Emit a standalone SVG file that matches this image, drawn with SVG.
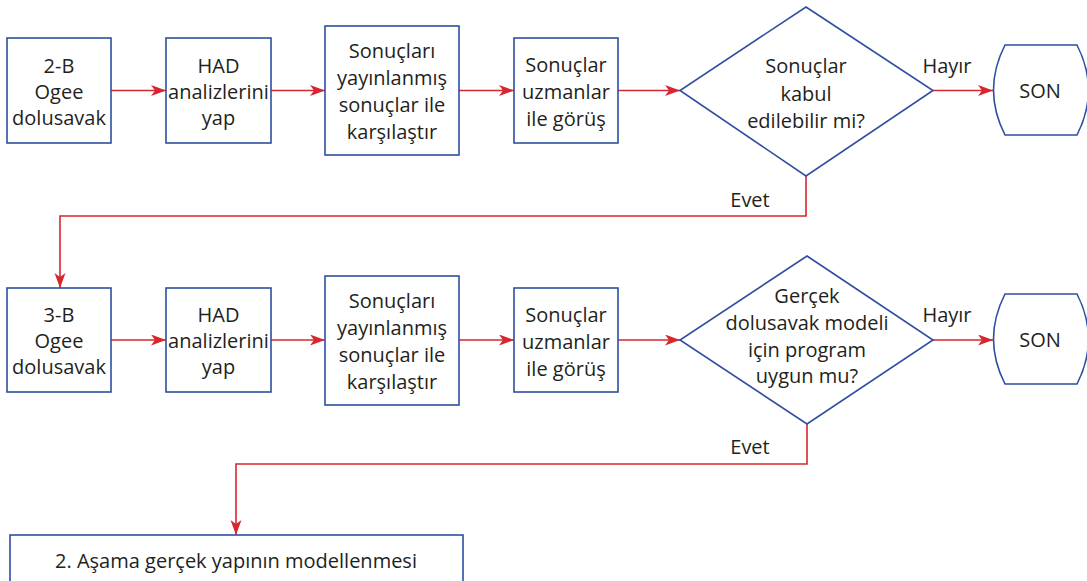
<svg xmlns="http://www.w3.org/2000/svg" width="1087" height="581" viewBox="0 0 1087 581">
<defs>
<marker id="arr" markerUnits="userSpaceOnUse" markerWidth="16" markerHeight="12" refX="15" refY="5.5" orient="auto">
<path d="M0,0 L15,5.5 L0,11 L4,5.5 Z" fill="#d7262e"/>
</marker>
<style>
.n{fill:#fff;stroke:#2e4fa0;stroke-width:1.6}
.t{font-family:"Open Sans","Noto Sans",sans-serif;font-size:20px;fill:#231f20;text-anchor:middle}
.c{fill:none;stroke:#d7262e;stroke-width:1.6;marker-end:url(#arr)}
</style>
</defs>
<rect width="1087" height="581" fill="#fff"/>
<g id="connectors">
<line class="c" x1="111" y1="90.5" x2="166" y2="90.5"/>
<line class="c" x1="271" y1="90.5" x2="325" y2="90.5"/>
<line class="c" x1="459" y1="90.5" x2="514" y2="90.5"/>
<line class="c" x1="618" y1="90.5" x2="680" y2="90.5"/>
<line class="c" x1="933" y1="90.5" x2="993" y2="90.5"/>
<polyline class="c" points="806,176 806,216 60,216 60,288"/>
<line class="c" x1="111" y1="340" x2="166" y2="340"/>
<line class="c" x1="271" y1="340" x2="325" y2="340"/>
<line class="c" x1="459" y1="340" x2="514" y2="340"/>
<line class="c" x1="618" y1="340" x2="680" y2="340"/>
<line class="c" x1="933" y1="340" x2="993" y2="340"/>
<polyline class="c" points="807,424 807,464 236,464 236,535"/>
<text class="t" x="947" y="73">Hayır</text>
<text class="t" x="750" y="207">Evet</text>
<text class="t" x="947" y="322">Hayır</text>
<text class="t" x="750" y="454">Evet</text>
</g>
<g id="n1">
<rect class="n" x="7" y="38" width="104" height="105"/>
<text class="t" x="59" y="73">2-B</text>
<text class="t" x="59" y="99">Ogee</text>
<text class="t" x="59" y="125">dolusavak</text>
</g>
<g id="n2">
<rect class="n" x="166" y="38" width="105" height="105"/>
<text class="t" x="218.5" y="73">HAD</text>
<text class="t" x="218.5" y="99">analizlerini</text>
<text class="t" x="218.5" y="125">yap</text>
</g>
<g id="n3">
<rect class="n" x="325" y="26" width="134" height="129"/>
<text class="t" x="392" y="58">Sonuçları</text>
<text class="t" x="392" y="85">yayınlanmış</text>
<text class="t" x="392" y="112">sonuçlar ile</text>
<text class="t" x="392" y="139">karşılaştır</text>
</g>
<g id="n4">
<rect class="n" x="514" y="38" width="104" height="105"/>
<text class="t" x="566" y="72">Sonuçlar</text>
<text class="t" x="566" y="99">uzmanlar</text>
<text class="t" x="566" y="126">ile görüş</text>
</g>
<g id="d1">
<polygon class="n" points="806,7 933,90.5 806,176 680,90.5"/>
<text class="t" x="806" y="73">Sonuçlar</text>
<text class="t" x="806" y="101">kabul</text>
<text class="t" x="806" y="128">edilebilir mi?</text>
</g>
<g id="s1">
<path class="n" d="M1005,45 L1077,45 Q1100,90 1077,135 L1005,135 Q982,90 1005,45 Z"/>
<text class="t" x="1040" y="98">SON</text>
</g>
<g id="n5">
<rect class="n" x="7" y="288" width="104" height="104"/>
<text class="t" x="59" y="322">3-B</text>
<text class="t" x="59" y="348">Ogee</text>
<text class="t" x="59" y="374">dolusavak</text>
</g>
<g id="n6">
<rect class="n" x="166" y="288" width="105" height="104"/>
<text class="t" x="218.5" y="322">HAD</text>
<text class="t" x="218.5" y="348">analizlerini</text>
<text class="t" x="218.5" y="374">yap</text>
</g>
<g id="n7">
<rect class="n" x="325" y="276" width="134" height="129"/>
<text class="t" x="392" y="308">Sonuçları</text>
<text class="t" x="392" y="335">yayınlanmış</text>
<text class="t" x="392" y="362">sonuçlar ile</text>
<text class="t" x="392" y="389">karşılaştır</text>
</g>
<g id="n8">
<rect class="n" x="514" y="288" width="104" height="104"/>
<text class="t" x="566" y="322">Sonuçlar</text>
<text class="t" x="566" y="349">uzmanlar</text>
<text class="t" x="566" y="376">ile görüş</text>
</g>
<g id="d2">
<polygon class="n" points="807,256 933,340 807,424 680,340"/>
<text class="t" x="807" y="303">Gerçek</text>
<text class="t" x="807" y="330">dolusavak modeli</text>
<text class="t" x="807" y="357">için program</text>
<text class="t" x="807" y="383">uygun mu?</text>
</g>
<g id="s2">
<path class="n" d="M1005,294 L1077,294 Q1100,339 1077,384 L1005,384 Q982,339 1005,294 Z"/>
<text class="t" x="1040" y="347">SON</text>
</g>
<g id="n9">
<rect class="n" x="10" y="535" width="453" height="70"/>
<text class="t" x="236" y="568">2. Aşama gerçek yapının modellenmesi</text>
</g>
</svg>
